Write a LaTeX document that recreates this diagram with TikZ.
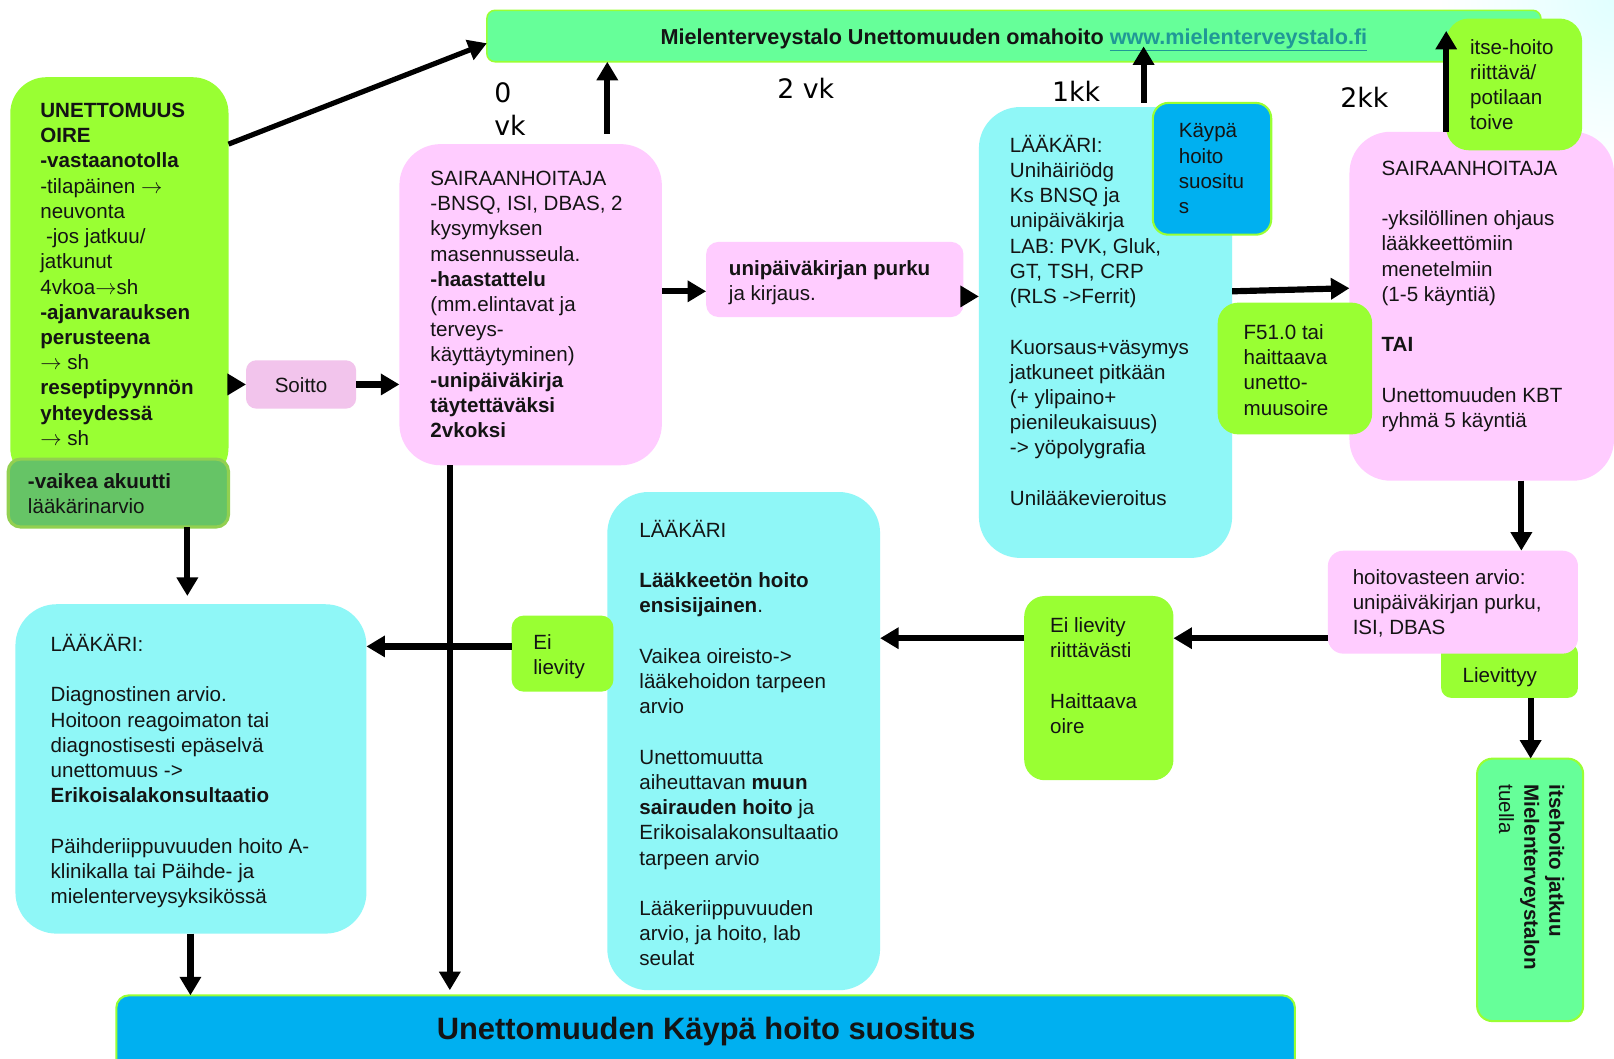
\documentclass[tikz,border=0pt]{standalone}
\usepackage{fontspec}
\setmainfont{Liberation Sans}
\newfontfamily\lblfont{DejaVu Sans}
\usetikzlibrary{arrows.meta,calc}
\definecolor{grn}{RGB}{153,255,51}
\definecolor{mint}{RGB}{102,255,153}
\definecolor{cyanbox}{RGB}{143,247,247}
\definecolor{pinkbox}{RGB}{255,204,255}
\definecolor{soittopink}{RGB}{242,196,236}
\definecolor{darkgrn}{RGB}{102,196,102}
\definecolor{darkgrnborder}{RGB}{146,208,80}
\definecolor{kbox}{RGB}{0,176,240}
\definecolor{linkcol}{RGB}{32,152,150}
\definecolor{txtcol}{RGB}{20,20,20}
\newcommand\mybox[6]{\node[boxbase,#6,minimum width=#4-#2,minimum height=#5-#3] (#1) at ({(#2+#4)/2},{(#3+#5)/2}) {};}
\newcommand\ra{$\rightarrow$}
\begin{document}
\begin{tikzpicture}[x=1pt,y=-1pt,
  boxbase/.style={inner sep=0pt,outer sep=0pt,draw=none},
  txtbase/.style={font=\fontsize{20}{24.5}\selectfont,align=left,inner sep=0pt,anchor=north west,text=txtcol,execute at begin node=\strut},
  txt/.style={txtbase,yshift=-3pt},
  lbl/.style={font=\lblfont\fontsize{26}{30}\selectfont,inner sep=0pt,anchor=base west},
  arr/.style={line width=6pt,-{Triangle[length=18pt,width=20pt]}},
]
\useasboundingbox (0,0) rectangle (1568,1028);
\fill[white] (0,0) rectangle (1568,1028);
\shade[inner color=cyan!12!white,outer color=white] (1568,0) circle (170);

% top bar
\mybox{bar}{473}{10}{1497}{60}{fill=mint,draw=grn,line width=1.5pt,rounded corners=8pt}
\node[font=\fontsize{21}{24}\selectfont\bfseries,inner sep=0pt,anchor=base,text=txtcol] (bart) at (985,43) {Mielenterveystalo Unettomuuden omahoito \textcolor{linkcol}{\underline{www.mielenterveystalo.fi}}};

% time labels
\node[lbl] (l0) at (480,100) {0};
\node[lbl] (lvk) at (480,132) {vk};
\node[lbl] (l2vk) at (755,96) {2 vk};
\node[lbl] (l1kk) at (1022,99) {1kk};
\node[lbl] (l2kk) at (1302,104) {2kk};

% left green box
\mybox{g1}{10}{75}{222}{470}{fill=grn,rounded corners=35pt}
\node[txt] (g1t) at (39,97) {\textbf{UNETTOMUUS}\\\textbf{OIRE}\\\textbf{-vastaanotolla}\\-tilapäinen \ra\\neuvonta\\\ -jos jatkuu/\\jatkunut\\4vkoa\ra sh\\\textbf{-ajanvarauksen}\\\textbf{perusteena}\\\ra\ sh\\\textbf{reseptipyynnön}\\\textbf{yhteydessä}\\\ra\ sh};
\mybox{dark}{8}{446}{222}{512}{fill=darkgrn,draw=darkgrnborder,line width=3pt,rounded corners=12pt}
\node[txt] (darkt) at (27,457) {\textbf{-vaikea akuutti}\\lääkärinarvio};

% Soitto
\mybox{soitto}{239}{350}{346}{397}{fill=soittopink,rounded corners=10pt}
\node[txt,anchor=center] (soittot) at (soitto.center) {Soitto};

% pink 1
\mybox{pink1}{388}{140}{643}{452}{fill=pinkbox,rounded corners=40pt}
\node[txt] (pink1t) at (418,163) {SAIRAANHOITAJA\\-BNSQ, ISI, DBAS, 2\\kysymyksen\\masennusseula.\\\textbf{-haastattelu}\\(mm.elintavat ja\\terveys-\\käyttäytyminen)\\\textbf{-unipäiväkirja}\\\textbf{täytettäväksi}\\\textbf{2vkoksi}};

% unipaivakirjan purku
\mybox{upk}{686}{235}{936}{308}{fill=pinkbox,rounded corners=12pt}
\node[txt] (upkt) at (708,250) {\textbf{unipäiväkirjan purku}\\ja kirjaus.};

% cyan 1
\mybox{cyan1}{951}{104}{1197}{542}{fill=cyanbox,rounded corners=40pt}
\node[txt] (cyan1t) at (981,128) {LÄÄKÄRI:\\Unihäiriödg\\Ks BNSQ ja\\unipäiväkirja\\LAB: PVK, Gluk,\\GT, TSH, CRP\\(RLS ->Ferrit)\\[24.5pt]Kuorsaus+väsymys\\jatkuneet pitkään\\(+ ylipaino+\\pienileukaisuus)\\-> yöpolygrafia\\[24.5pt]Unilääkevieroitus};

\mybox{kb}{1120}{100}{1235}{228}{fill=kbox,draw=grn,line width=2pt,rounded corners=15pt}
\node[txt] (kbt) at (1145,117) {Käypä\\hoito\\suositu\\s};

% pink 2
\mybox{pink2}{1311}{128}{1568}{467}{fill=pinkbox,rounded corners=40pt}
\node[txt] (pink2t) at (1342,153) {SAIRAANHOITAJA\\[24.5pt]-yksilöllinen ohjaus\\lääkkeettömiin\\menetelmiin\\(1-5 käyntiä)\\[24.5pt]\textbf{TAI}\\[24.5pt]Unettomuuden KBT\\ryhmä 5 käyntiä};

\mybox{itse}{1405}{18}{1537}{146}{fill=grn,rounded corners=22pt}
\node[txt] (itset) at (1428,35) {itse-hoito\\riittävä/\\potilaan\\toive};

\mybox{f51}{1183}{294}{1333}{422}{fill=grn,rounded corners=20pt}
\node[txt] (f51t) at (1208,312) {F51.0 tai\\haittaava\\unetto-\\muusoire};

% hoitovaste
\mybox{liev}{1400}{625}{1533}{678}{fill=grn,rounded corners=10pt}
\node[txtbase,anchor=center] (lievt) at (1457,658) {Lievittyy};
\mybox{hov}{1290}{535}{1533}{635}{fill=pinkbox,rounded corners=15pt}
\node[txt] (hovt) at (1314,550) {hoitovasteen arvio:\\unipäiväkirjan purku,\\ISI, DBAS};

\mybox{itsj}{1435}{737}{1538}{992}{fill=mint,draw=grn,line width=2pt,rounded corners=15pt}
\node[txtbase,rotate=-90] (itsjt) at (1520,762) {\textbf{itsehoito jatkuu}\\\textbf{Mielenterveystalon}\\tuella};

% Ei lievity riittavasti
\mybox{eir}{995}{579}{1140}{758}{fill=grn,rounded corners=20pt}
\node[txt] (eirt) at (1020,597) {Ei lievity\\riittävästi\\[24.5pt]Haittaava\\oire};

% cyan 2
\mybox{cyan2}{590}{478}{855}{962}{fill=cyanbox,rounded corners=40pt}
\node[txt] (cyan2t) at (621,502) {LÄÄKÄRI\\[24.5pt]\textbf{Lääkkeetön hoito}\\\textbf{ensisijainen}.\\[24.5pt]Vaikea oireisto->\\lääkehoidon tarpeen\\arvio\\[24.5pt]Unettomuutta\\aiheuttavan \textbf{muun}\\\textbf{sairauden hoito} ja\\Erikoisalakonsultaatio\\tarpeen arvio\\[24.5pt]Lääkeriippuvuuden\\arvio, ja hoito, lab\\seulat};

\mybox{eis}{497}{598}{596}{672}{fill=grn,rounded corners=12pt}
\node[txt] (eist) at (518,613) {Ei\\lievity};

% cyan 3
\mybox{cyan3}{15}{587}{356}{907}{fill=cyanbox,rounded corners=40pt}
\node[txt] (cyan3t) at (49,613) {LÄÄKÄRI:\\[24.5pt]Diagnostinen arvio.\\Hoitoon reagoimaton tai\\diagnostisesti epäselvä\\unettomuus ->\\\textbf{Erikoisalakonsultaatio}\\[24.5pt]Päihderiippuvuuden hoito A-\\klinikalla tai Päihde- ja\\mielenterveysyksikössä};

% bottom bar
\mybox{kh}{113}{967}{1258}{1045}{fill=kbox,draw=grn,line width=2pt,rounded corners=12pt}
\node[font=\fontsize{30}{34}\selectfont\bfseries,inner sep=0pt,anchor=base,text=txtcol] (kht) at (686,1010) {Unettomuuden Käypä hoito suositus};

% arrows
\draw[line width=5pt,-{Triangle[length=18pt,width=20pt]}] ([yshift=-65pt]g1.north east) -- ([yshift=-7pt]bar.west);
\draw[arr] (g1.east |- soitto.west) -- (soitto.west);
\draw[arr] (soitto.east) -- (pink1.west |- soitto.east);
\draw[arr] ([xshift=74.5pt,yshift=10pt]pink1.north) -- ([xshift=74.5pt]pink1.north |- bar.south);
\draw[arr] (pink1.east |- 0,283) -- (upk.west |- 0,283);
\draw[arr] (upk.east |- 0,288) -- (cyan1.west |- 0,288);
\draw[arr] ([yshift=4pt]cyan1.north -| 1111,0) -- ([yshift=15pt]bar.south -| 1111,0);
\draw[arr] (cyan1.east |- 0,283) -- (pink2.west |- 0,280);
\draw[arr] (itse.west |- pink2.north) -- (itse.west |- 0,30);
\draw[arr] (pink2.south -| 1478,0) -- (hov.north -| 1478,0);
\draw[arr] (liev.south -| 1487,0) -- (itsj.north -| 1487,0);
\draw[arr] (hov.west |- 0,620) -- (eir.east |- 0,620);
\draw[arr] (eir.west |- 0,620) -- (cyan2.east |- 0,620);
\draw[arr] (eis.west |- 0,628) -- (cyan3.east |- 0,628);
\draw[arr] (pink1.south -| 437,0) -- ([yshift=5pt]kh.north -| 437,0);
\draw[arr] (dark.south -| 182,0) -- ([yshift=8pt]cyan3.north -| 182,0);
\draw[arr] (cyan3.south -| 185,0) -- (kh.north -| 185,0);
\end{tikzpicture}
\end{document}
